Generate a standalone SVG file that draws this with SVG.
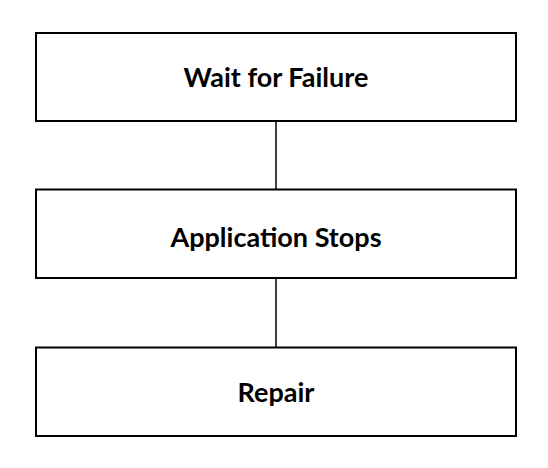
<svg xmlns="http://www.w3.org/2000/svg" width="548" height="468" viewBox="0 0 548 468">
<style>
.box{fill:#fff;stroke:#000;stroke-width:2}
.lbl{font-family:Lato,"Liberation Sans",sans-serif;font-weight:bold;font-size:27px;fill:#000;text-anchor:middle;dominant-baseline:central}
.conn{stroke:#000;stroke-width:1.5;fill:none}
</style>
<rect width="548" height="468" fill="#fff"/>
<g id="connectors">
<line class="conn" x1="276" y1="122" x2="276" y2="189"/>
<line class="conn" x1="276" y1="278" x2="276" y2="347"/>
</g>
<g id="n1"><rect class="box" x="36" y="33" width="480" height="88"/><text class="lbl" x="276" y="76.5">Wait for Failure</text></g>
<g id="n2"><rect class="box" x="36" y="189.5" width="480" height="88.5"/><text class="lbl" x="276" y="236.5">Application Stops</text></g>
<g id="n3"><rect class="box" x="36" y="347.5" width="480" height="88.5"/><text class="lbl" x="276" y="391.5">Repair</text></g>
</svg>
